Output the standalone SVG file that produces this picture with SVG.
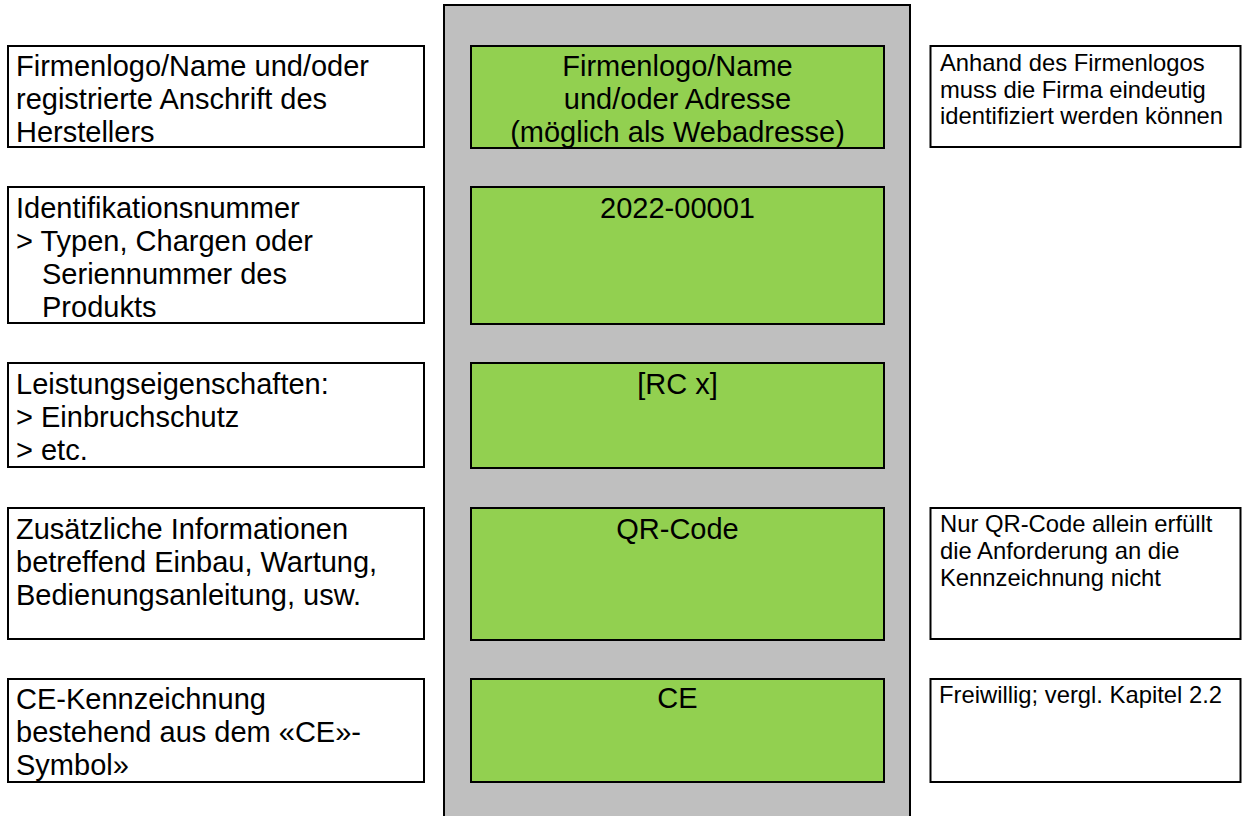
<svg xmlns="http://www.w3.org/2000/svg" width="1242" height="816" viewBox="0 0 1242 816">
<style>
  text { font-family: "Liberation Sans", Arial, sans-serif; fill: #000; }
  .lbl { font-size: 29px; }
  .note { font-size: 23.8px; }
  .ctr { text-anchor: middle; }
  .box { fill: #fff; stroke: #000; stroke-width: 2; }
  .green { fill: #92D050; stroke: #000; stroke-width: 2; }
  .col { fill: #BFBFBF; stroke: #000; stroke-width: 2; }
</style>
<rect width="1242" height="816" fill="#fff"/>
<g id="column">
  <rect class="col" x="444" y="5" width="466" height="820"/>
</g>
<g id="connectors"></g>

<g id="left1">
  <rect class="box" x="8" y="46" width="416" height="101"/>
  <text class="lbl" x="16" y="76">Firmenlogo/Name und/oder</text>
  <text class="lbl" x="16" y="109">registrierte Anschrift des</text>
  <text class="lbl" x="16" y="142">Herstellers</text>
</g>
<g id="left2">
  <rect class="box" x="8" y="187" width="416" height="136"/>
  <text class="lbl" x="16" y="217.5">Identifikationsnummer</text>
  <text class="lbl" x="16" y="250.5">&gt; Typen, Chargen oder</text>
  <text class="lbl" x="42" y="283.5">Seriennummer des</text>
  <text class="lbl" x="42" y="316.5">Produkts</text>
</g>
<g id="left3">
  <rect class="box" x="8" y="363" width="416" height="104"/>
  <text class="lbl" x="16" y="393.5">Leistungseigenschaften:</text>
  <text class="lbl" x="16" y="426.5">&gt; Einbruchschutz</text>
  <text class="lbl" x="16" y="459.5">&gt; etc.</text>
</g>
<g id="left4">
  <rect class="box" x="8" y="508" width="416" height="131"/>
  <text class="lbl" x="16" y="538.5">Zusätzliche Informationen</text>
  <text class="lbl" x="16" y="571.5">betreffend Einbau, Wartung,</text>
  <text class="lbl" x="16" y="604.5">Bedienungsanleitung, usw.</text>
</g>
<g id="left5">
  <rect class="box" x="8" y="679" width="416" height="103"/>
  <text class="lbl" x="16" y="709">CE-Kennzeichnung</text>
  <text class="lbl" x="16" y="742">bestehend aus dem «CE»-</text>
  <text class="lbl" x="16" y="775">Symbol»</text>
</g>

<g id="green1">
  <rect class="green" x="471" y="46" width="413" height="102"/>
  <text class="lbl ctr" x="677.5" y="76">Firmenlogo/Name</text>
  <text class="lbl ctr" x="677.5" y="109">und/oder Adresse</text>
  <text class="lbl ctr" x="677.5" y="142">(möglich als Webadresse)</text>
</g>
<g id="green2">
  <rect class="green" x="471" y="187" width="413" height="137"/>
  <text class="lbl ctr" x="677.5" y="217.5">2022-00001</text>
</g>
<g id="green3">
  <rect class="green" x="471" y="363" width="413" height="105"/>
  <text class="lbl ctr" x="677.5" y="393.5">[RC x]</text>
</g>
<g id="green4">
  <rect class="green" x="471" y="508" width="413" height="132"/>
  <text class="lbl ctr" x="677.5" y="538.5">QR-Code</text>
</g>
<g id="green5">
  <rect class="green" x="471" y="679" width="413" height="103"/>
  <text class="lbl ctr" x="677.5" y="708">CE</text>
</g>

<g id="right1">
  <rect class="box" x="930.5" y="46" width="310" height="101"/>
  <text class="note" x="940" y="71">Anhand des Firmenlogos</text>
  <text class="note" x="940" y="97.5">muss die Firma eindeutig</text>
  <text class="note" x="940" y="124">identifiziert werden können</text>
</g>
<g id="right4">
  <rect class="box" x="930.5" y="508" width="310" height="131"/>
  <text class="note" x="940" y="532">Nur QR-Code allein erfüllt</text>
  <text class="note" x="940" y="559">die Anforderung an die</text>
  <text class="note" x="940" y="586">Kennzeichnung nicht</text>
</g>
<g id="right5">
  <rect class="box" x="930.5" y="679" width="310" height="103"/>
  <text class="note" x="939" y="702.5">Freiwillig; vergl. Kapitel 2.2</text>
</g>
</svg>
